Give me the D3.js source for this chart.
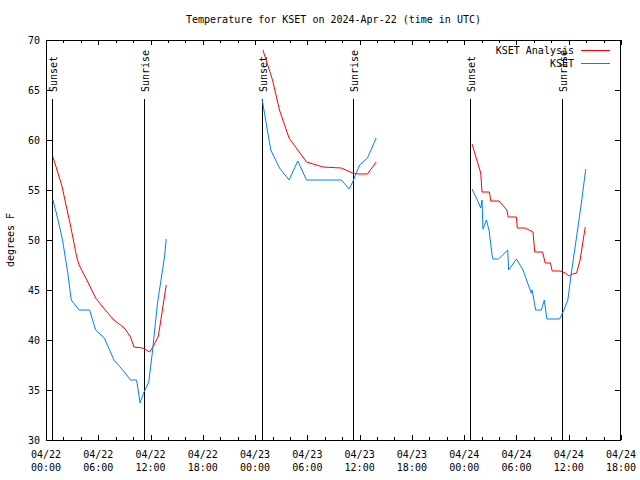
<!DOCTYPE html>
<html><head><meta charset="utf-8">
<script src="https://cdn.jsdelivr.net/npm/d3@7"></script>
<style>body{margin:0;background:#fff}svg{display:block}text{font-family:"DejaVu Sans Mono",monospace;font-size:10px;fill:#000}</style>
</head><body><svg id="c" width="640" height="480"></svg>
<script>
// hours since 2024-04-22 00:00 UTC; null marks a gap
const analysisHours = [0.8,1.8,2.8,3.5,3.8,4.8,5.7,6.8,7.8,9.0,9.7,10.1,11.1,11.9,12.4,12.9,13.8,null,
  24.9,26.0,26.8,27.9,28.9,29.9,31.8,33.9,35.2,35.8,36.9,37.9,null,
  48.9,49.9,50.05,50.9,51.05,52.0,52.9,53.05,54.0,54.1,55.0,55.9,56.1,57.0,57.3,57.9,58.1,59.0,59.6,60.05,60.4,60.9,61.3,61.9];
const analysisTemps = [58.3,55.5,51.5,48.4,47.5,45.8,44.2,43.0,42.0,41.2,40.3,39.3,39.2,38.8,39.5,40.4,45.5,null,
  69.0,66.0,63.0,60.2,59.0,57.8,57.3,57.2,56.7,56.6,56.6,57.8,null,
  59.6,56.7,54.8,54.8,53.9,53.9,53.0,52.3,52.3,51.2,51.2,50.8,48.8,48.8,47.7,47.7,46.9,46.9,46.7,46.4,46.6,46.7,48.0,51.3];
const obsHours = [0.8,1.3,1.9,2.5,2.9,3.8,5.0,5.7,6.7,7.8,9.0,9.7,10.4,10.7,10.8,11.2,11.8,12.2,12.8,13.6,13.8,null,
  24.8,25.8,26.8,27.9,28.9,29.9,33.9,34.8,35.2,36.0,36.9,37.9,null,
  48.9,49.4,49.9,50.05,50.15,50.55,50.85,51.2,51.3,51.95,53.0,53.1,54.0,54.75,55.7,55.8,56.2,56.85,57.2,57.4,57.5,58.95,59.35,59.9,60.3,60.9,61.5,61.95];
const obsTemps = [54.0,52.3,50.0,46.7,44.0,43.0,43.0,41.0,40.2,38.0,36.8,36.0,36.0,34.3,33.7,34.7,35.8,38.7,43.7,48.3,50.1,null,
  64.1,59.0,57.2,56.0,57.9,56.0,56.0,55.1,55.8,57.5,58.2,60.2,null,
  55.1,54.2,53.2,54.0,51.1,52.0,51.0,48.5,48.1,48.1,49.0,47.0,48.1,47.0,44.7,45.0,43.0,43.0,44.0,42.7,42.1,42.1,42.8,44.0,46.7,50.3,54.0,57.1];
const sunHours = [0.69,11.25,24.79,35.24,48.67,59.23];
const sunLabels = ["Sunset","Sunrise","Sunset","Sunrise","Sunset","Sunrise"];
const xTickHours = [0,6,12,18,24,30,36,42,48,54,60,66];
const xTickDates = ["04/22","04/22","04/22","04/22","04/23","04/23","04/23","04/23","04/24","04/24","04/24","04/24"];
const xTickTimes = ["00:00","06:00","12:00","18:00","00:00","06:00","12:00","18:00","00:00","06:00","12:00","18:00"];
const yTicks = [30,35,40,45,50,55,60,65,70];
const seriesNames = ["KSET Analysis","KSET"];
const seriesColors = ["#ff0000","#0080ff"];

const L=46,R=621,T=40,B=440;
const svg=d3.select("#c");
const x=d3.scaleLinear().domain([0,66]).range([L,R]);
const y=d3.scaleLinear().domain([30,70]).range([B,T]);

svg.append("text").attr("x",(L+R)/2).attr("y",23).attr("text-anchor","middle")
  .text("Temperature for KSET on 2024-Apr-22 (time in UTC)");

const g=svg.append("g").attr("shape-rendering","crispEdges");
// y ticks both sides
yTicks.forEach(v=>{
  const yy=Math.round(y(v))+0.5;
  g.append("line").attr("x1",L).attr("x2",L+6).attr("y1",yy).attr("y2",yy).attr("stroke","#000");
  g.append("line").attr("x1",R-6).attr("x2",R).attr("y1",yy).attr("y2",yy).attr("stroke","#000");
  svg.append("text").attr("x",L-6).attr("y",y(v)+4).attr("text-anchor","end").text(v);
});
// x ticks every 2h
d3.range(0,67,2).forEach(h=>{
  const xx=Math.round(x(h))+0.5;
  const len = (h%6===0)?5:3;
  g.append("line").attr("x1",xx).attr("x2",xx).attr("y1",B).attr("y2",B-len).attr("stroke","#000");
  g.append("line").attr("x1",xx).attr("x2",xx).attr("y1",T).attr("y2",T+len).attr("stroke","#000");
});
xTickHours.forEach((h,i)=>{
  svg.append("text").attr("x",x(h)).attr("y",458).attr("text-anchor","middle").text(xTickDates[i]);
  svg.append("text").attr("x",x(h)).attr("y",471).attr("text-anchor","middle").text(xTickTimes[i]);
});
svg.append("text").attr("transform","translate(14,240) rotate(-90)").attr("text-anchor","middle").text("degrees F");

// sun lines
sunHours.forEach((h,i)=>{
  const xx=Math.round(x(h))+0.5;
  g.append("line").attr("x1",xx).attr("x2",xx).attr("y1",99).attr("y2",B).attr("stroke","#000");
  svg.append("text").attr("transform",`translate(${xx+4},92) rotate(-90)`).text(sunLabels[i]);
});

// border
g.append("rect").attr("x",L+0.5).attr("y",T+0.5).attr("width",R-L-1).attr("height",B-T).attr("fill","none").attr("stroke","#000");

const line=d3.line().defined(d=>d[0]!==null&&d[1]!==null).x(d=>x(d[0])).y(d=>y(d[1]));
const series=[d3.zip(analysisHours,analysisTemps), d3.zip(obsHours,obsTemps)];
series.forEach((s,i)=>{
  svg.append("path").datum(s).attr("d",line).attr("fill","none").attr("stroke",seriesColors[i]).attr("stroke-width",1);
});
// legend
seriesNames.forEach((n,i)=>{
  const ly=49.5+i*13;
  svg.append("text").attr("x",574).attr("y",ly+4).attr("text-anchor","end").text(n);
  g.append("line").attr("x1",581).attr("x2",610).attr("y1",Math.round(ly)+0.5).attr("y2",Math.round(ly)+0.5).attr("stroke",seriesColors[i]);
});
</script></body></html>
